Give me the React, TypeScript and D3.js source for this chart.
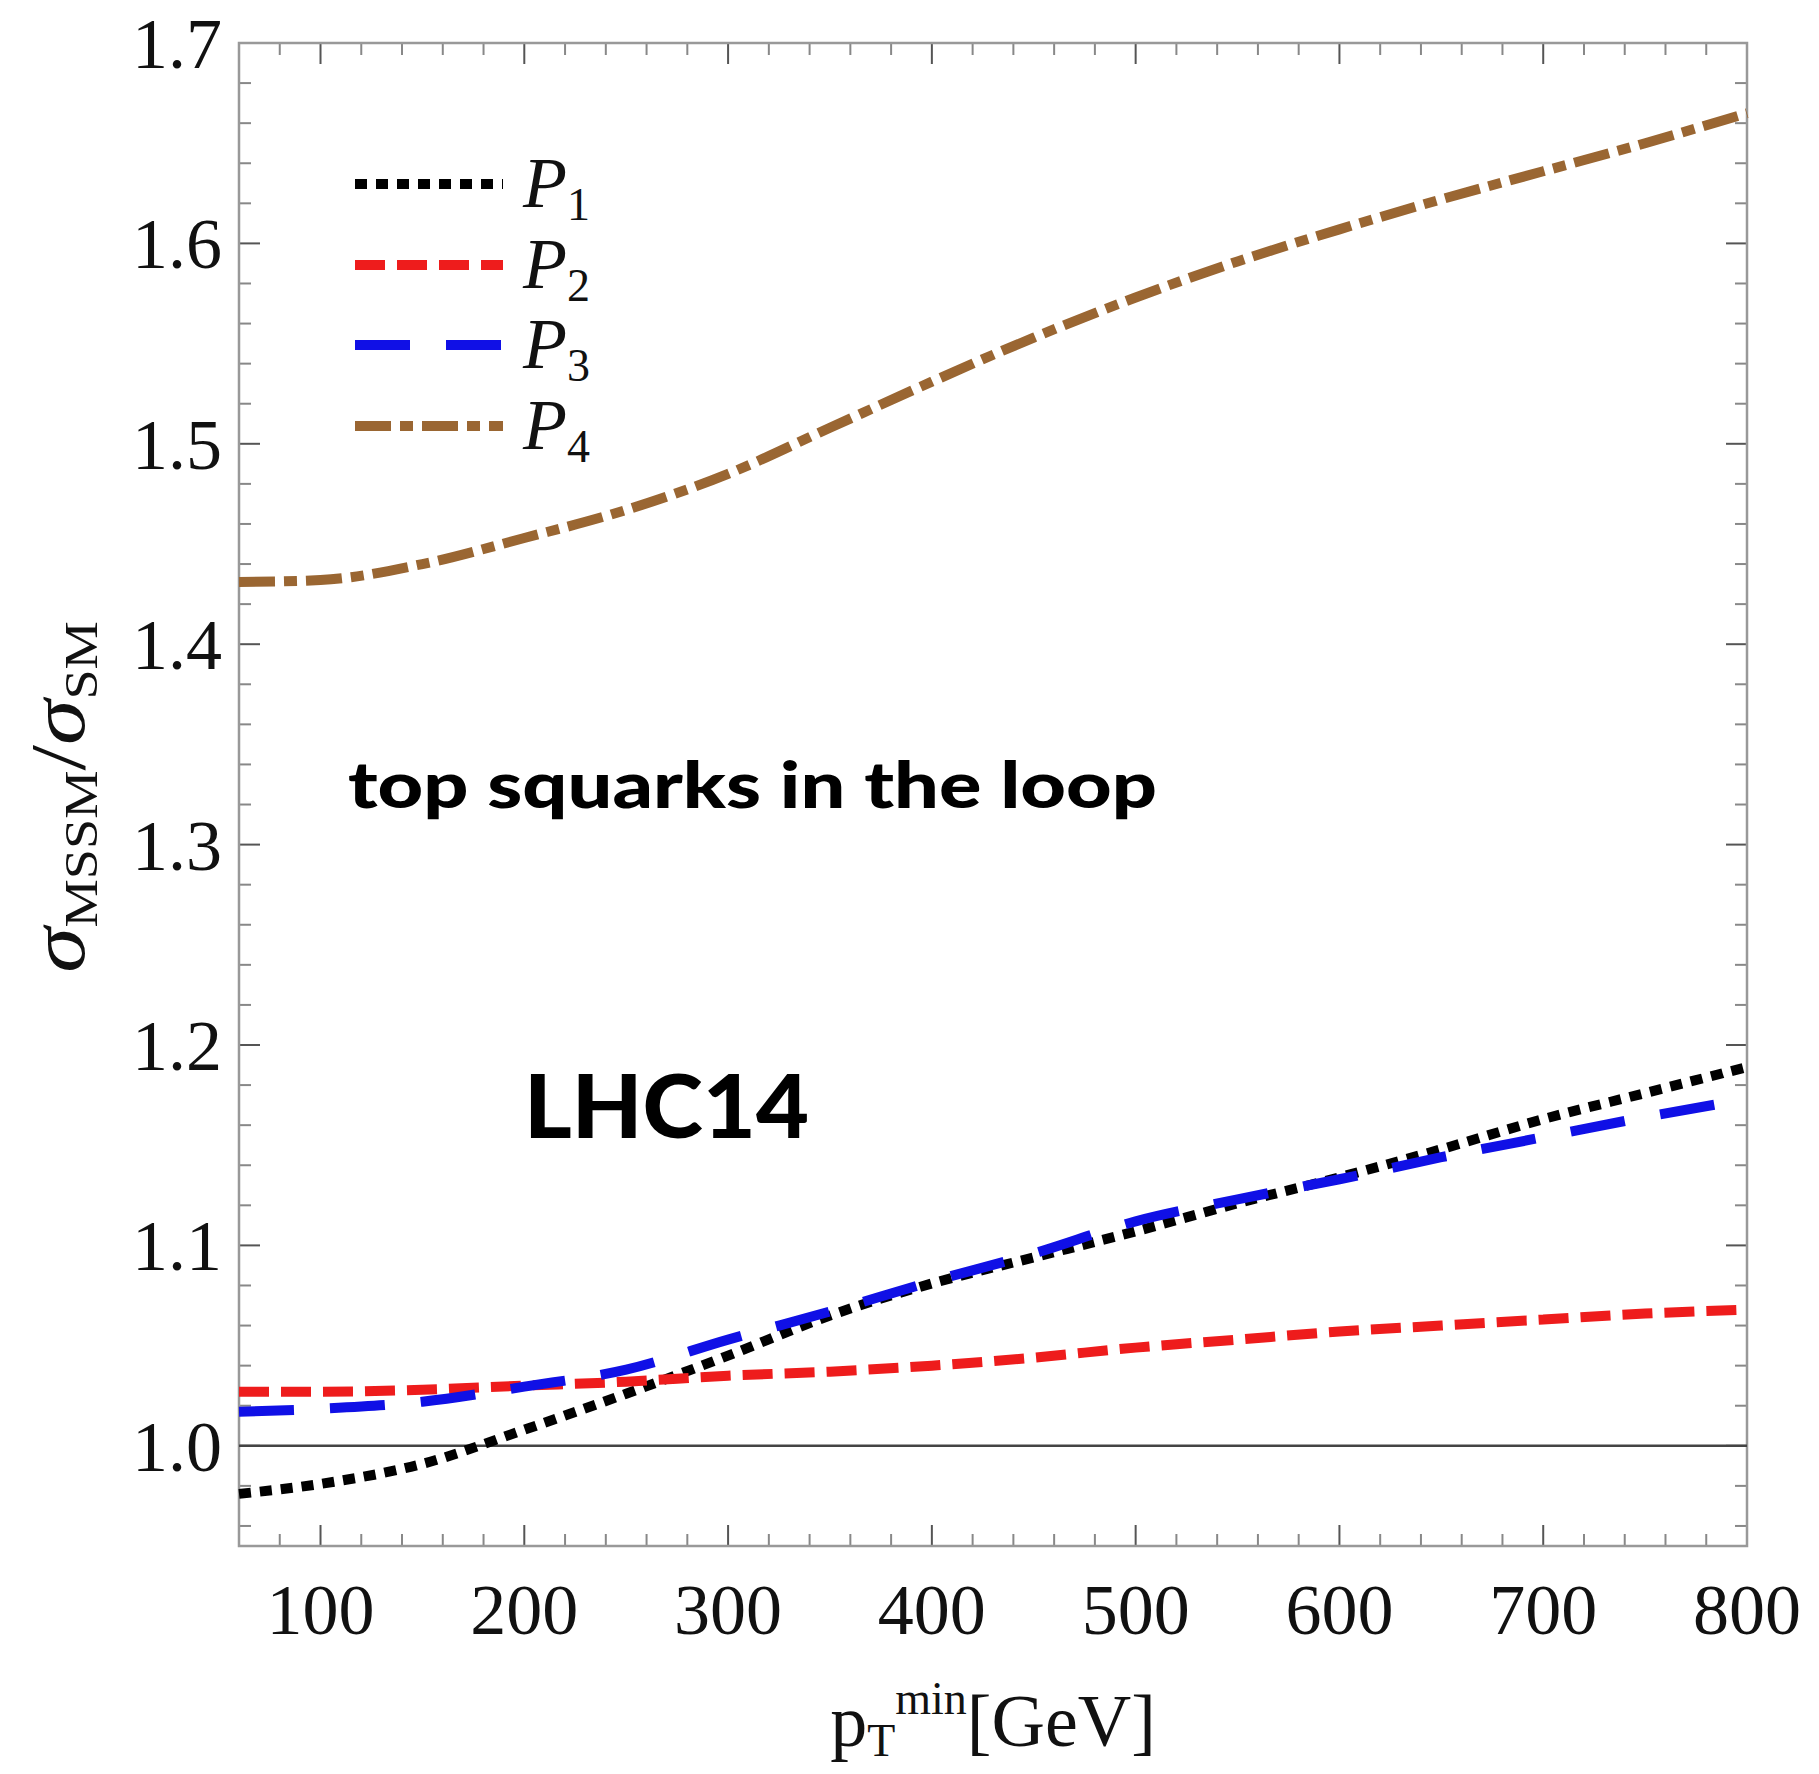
import React from "react";
import * as d3 from "d3";

// pT^min grid (GeV) and the four ratio curves
const ptValues = [60, 100, 150, 200, 250, 300, 350, 400, 450, 500, 550, 600, 650, 700, 750, 800];
const p1Values = [0.976, 0.981, 0.991, 1.008, 1.026, 1.045, 1.065, 1.081, 1.094, 1.107, 1.121, 1.134, 1.148, 1.163, 1.176, 1.189];
const p2Values = [1.027, 1.027, 1.028, 1.03, 1.032, 1.035, 1.037, 1.04, 1.044, 1.049, 1.053, 1.057, 1.06, 1.063, 1.066, 1.068];
const p3Values = [1.017, 1.0185, 1.022, 1.0295, 1.038, 1.053, 1.067, 1.082, 1.096, 1.112, 1.123, 1.133, 1.144, 1.154, 1.164, 1.173];
const p4Values = [1.431, 1.432, 1.44, 1.453, 1.467, 1.485, 1.508, 1.531, 1.553, 1.573, 1.591, 1.607, 1.622, 1.636, 1.65, 1.665];

const seriesNames = ["1", "2", "3", "4"];
const xTickLabels = [100, 200, 300, 400, 500, 600, 700, 800];
const yTickLabels = [1.0, 1.1, 1.2, 1.3, 1.4, 1.5, 1.6, 1.7];

// line styles, one per series
const seriesStyles = [
  {color: "#000000", dash: "12,9"},
  {color: "#ee1c1c", dash: "30,12"},
  {color: "#1010e6", dash: "55,36"},
  {color: "#9a6632", dash: "36,9,13,9"},
];

const margin = {left: 239, top: 43};
const plotW = 1508;
const plotH = 1503;
const serif = "'Liberation Serif', 'Times New Roman', serif";
const sans = "Lato, 'Open Sans', sans-serif";

export default function App() {
  const x = d3.scaleLinear().domain([60, 800]).range([0, plotW]);
  const y = d3.scaleLinear().domain([0.95, 1.7]).range([plotH, 0]);

  const line = d3.line<[number, number]>()
    .x((d) => x(d[0]))
    .y((d) => y(d[1]))
    .curve(d3.curveMonotoneX);

  const allSeries = [p1Values, p2Values, p3Values, p4Values];

  // minor ticks every 20 GeV / 0.02, major every 100 GeV / 0.1
  const xTicks = d3.range(3, 41).map((i) => ({v: i * 20, major: (i * 20) % 100 === 0}));
  const yTicks = d3.range(48, 86).map((i) => ({v: i / 50, major: i % 5 === 0}));

  const legendX0 = 355 - margin.left;
  const legendX1 = 503 - margin.left;
  const legendY = [184, 265, 345, 426].map((v) => v - margin.top);

  return (
    <svg width={1819} height={1774} style={{position: "absolute", left: 0, top: 0, background: "#fff"}}>
      <g transform={`translate(${margin.left},${margin.top})`}>
        {/* ticks on all four sides */}
        {xTicks.map((t, i) => {
          const len = t.major ? 21 : 12;
          const c = t.major ? "#555" : "#888";
          return (
            <g key={"xt" + i}>
              <line x1={x(t.v)} x2={x(t.v)} y1={plotH} y2={plotH - len} stroke={c} strokeWidth={2} />
              <line x1={x(t.v)} x2={x(t.v)} y1={0} y2={len} stroke={c} strokeWidth={2} />
            </g>
          );
        })}
        {yTicks.map((t, i) => {
          const len = t.major ? 21 : 12;
          const c = t.major ? "#555" : "#888";
          return (
            <g key={"yt" + i}>
              <line x1={0} x2={len} y1={y(t.v)} y2={y(t.v)} stroke={c} strokeWidth={2} />
              <line x1={plotW} x2={plotW - len} y1={y(t.v)} y2={y(t.v)} stroke={c} strokeWidth={2} />
            </g>
          );
        })}

        {/* frame */}
        <rect x={0} y={0} width={plotW} height={plotH} fill="none" stroke="#999" strokeWidth={2.5} />

        {/* reference line at 1 */}
        <line x1={0} x2={plotW} y1={y(1)} y2={y(1)} stroke="#444" strokeWidth={2.5} />

        {/* curves */}
        {allSeries.map((vals, i) => (
          <path key={"s" + i}
                d={line(ptValues.map((p, j) => [p, vals[j]] as [number, number])) || ""}
                fill="none" stroke={seriesStyles[i].color} strokeWidth={10}
                strokeDasharray={seriesStyles[i].dash} />
        ))}

        {/* tick labels */}
        {xTickLabels.map((v) => (
          <text key={"xl" + v} x={x(v)} y={plotH + 88} textAnchor="middle"
                fontFamily={serif} fontSize={72} fill="#111">{v}</text>
        ))}
        {yTickLabels.map((v) => (
          <text key={"yl" + v} x={-17} y={y(v) + 25} textAnchor="end"
                fontFamily={serif} fontSize={72} fill="#111">{v.toFixed(1)}</text>
        ))}

        {/* legend */}
        {seriesNames.map((n, i) => (
          <g key={"lg" + i}>
            <line x1={legendX0} x2={legendX1} y1={legendY[i]} y2={legendY[i]}
                  stroke={seriesStyles[i].color} strokeWidth={10}
                  strokeDasharray={seriesStyles[i].dash} />
            <text x={legendX1 + 20} y={legendY[i] + 23} fontFamily={serif} fontSize={72} fill="#111">
              <tspan fontStyle="italic">P</tspan>
              <tspan fontSize={46} dy={13}>{n}</tspan>
            </text>
          </g>
        ))}

        {/* annotations */}
        <text x={348 - margin.left} y={808 - margin.top} fontFamily={sans} fontWeight={900}
              fontSize={64} textLength={809} lengthAdjust="spacingAndGlyphs" fill="#000">
          top squarks in the loop
        </text>
        <text x={524 - margin.left} y={1138 - margin.top} fontFamily={sans} fontWeight={900}
              fontSize={88} textLength={285} lengthAdjust="spacingAndGlyphs" fill="#000">
          LHC14
        </text>
      </g>

      {/* axis titles */}
      <text transform="translate(84,797) rotate(-90) scale(1.18,1)" textAnchor="middle"
            fontFamily={serif} fontSize={78} fill="#111">
        <tspan fontStyle="italic">σ</tspan>
        <tspan fontSize={46} dy={13}>MSSM</tspan>
        <tspan dy={-13}>/</tspan>
        <tspan fontStyle="italic">σ</tspan>
        <tspan fontSize={46} dy={13}>SM</tspan>
      </text>
      <text x={993} y={1746} textAnchor="middle" fontFamily={serif} fontSize={74} fill="#111">
        <tspan>p</tspan>
        <tspan fontSize={46} dy={10}>T</tspan>
        <tspan fontSize={46} dy={-42}>min</tspan>
        <tspan dy={32}>[GeV]</tspan>
      </text>
    </svg>
  );
}
